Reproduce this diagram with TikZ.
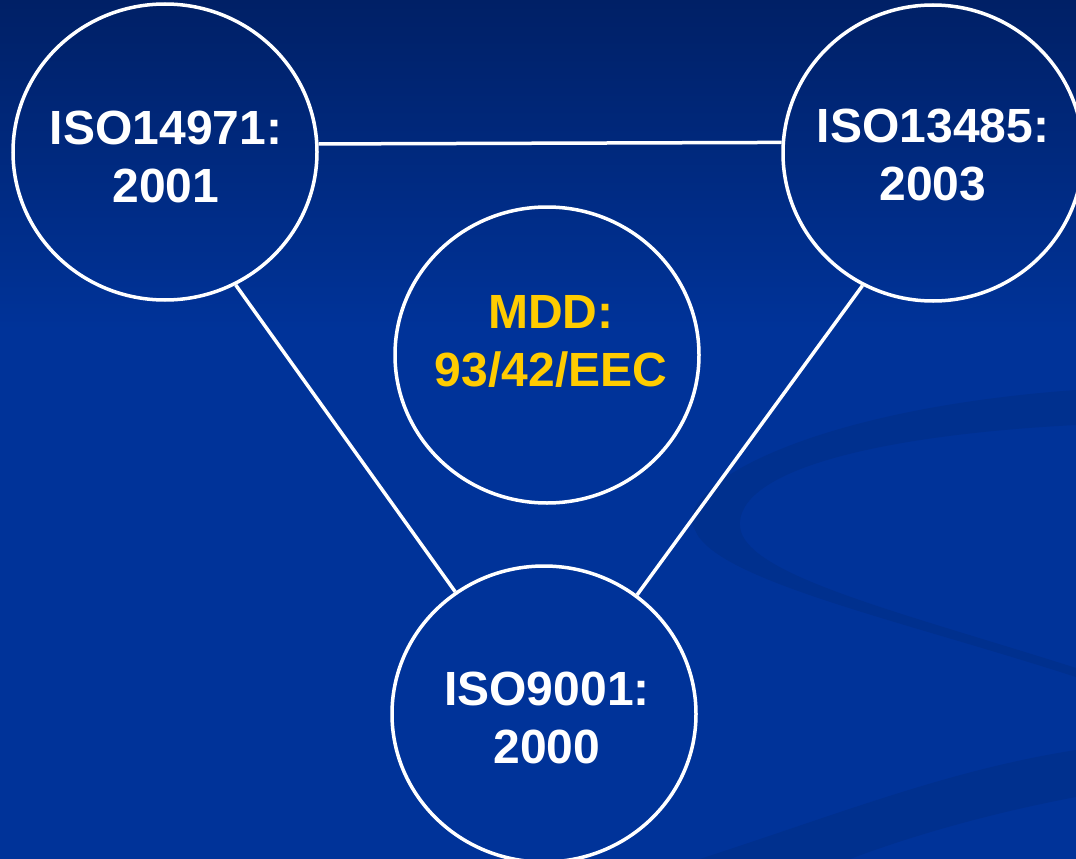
\documentclass[tikz,border=0pt]{standalone}
\usepackage{fontspec}
\setmainfont{Liberation Sans}
\usetikzlibrary{shapes.geometric}
\definecolor{bgtop}{HTML}{002066}
\definecolor{bgmain}{HTML}{003399}
\definecolor{swoosh}{HTML}{00308E}
\definecolor{mddyellow}{HTML}{FFCC00}
\begin{document}
\begin{tikzpicture}[x=1pt,y=-1pt,
    ring/.style={draw=white, line width=3.5pt, ellipse, minimum width=304pt, minimum height=296pt, inner sep=0pt},
    std/.style={white, font=\bfseries\fontsize{48}{58}\selectfont, align=center, inner sep=0pt},
    link/.style={white, line width=3.5pt}]
  \useasboundingbox (0,0) rectangle (1076,859);
  \fill[bgmain] (0,0) rectangle (1076,859);
  \shade[top color=bgtop, bottom color=bgmain] (0,0) rectangle (1076,330);
  \fill[swoosh] (1076,390) .. controls (800,410) and (670,490) .. (695,530)
    .. controls (715,580) and (900,620) .. (1076,677) -- (1076,668)
    .. controls (900,612) and (745,575) .. (740,527)
    .. controls (735,470) and (880,435) .. (1076,425) -- cycle;
  \fill[swoosh] (700,859) .. controls (850,810) and (950,770) .. (1076,750)
    -- (1076,797) .. controls (980,815) and (900,840) .. (850,859) -- cycle;

  \node[ring] (iso14971) at (165,152) {};
  \node[ring, minimum width=300pt] (iso13485) at (933,153) {};
  \node[ring] (mdd) at (547,355) {};
  \node[ring] (iso9001) at (544,714) {};

  \node[std] (iso14971txt) at (166,157) {ISO14971:\\2001};
  \node[std] (iso13485txt) at (933,155) {ISO13485:\\2003};
  \node[std, mddyellow] (mddtxt) at (551,341) {MDD:\\93/42/EEC};
  \node[std] (iso9001txt) at (547,718) {ISO9001:\\2000};

  \draw[link] (iso14971.3.4) -- (iso13485.176.2);
  \draw[link] (iso14971.-62.2) -- (iso9001.126);
  \draw[link] (iso13485.-118.3) -- (iso9001.52.2);
\end{tikzpicture}
\end{document}
